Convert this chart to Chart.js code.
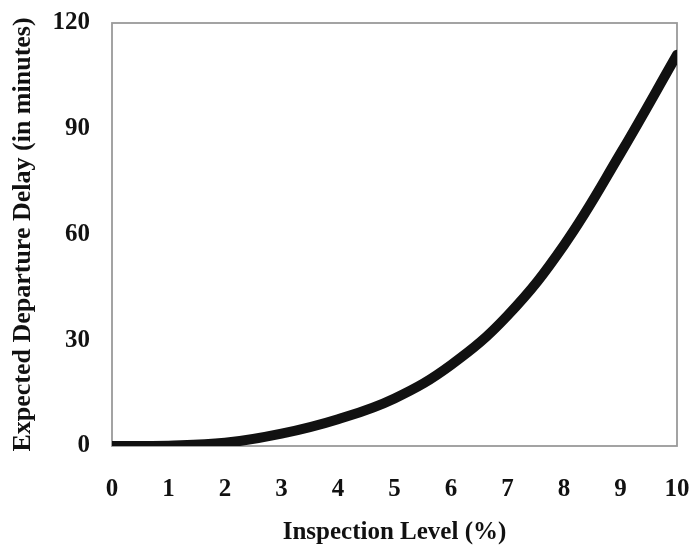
<!DOCTYPE html>
<html>
<head>
<meta charset="utf-8">
<script src="https://cdn.jsdelivr.net/npm/chart.js@4"></script>
<style>
  html, body { margin: 0; padding: 0; background: #fff; }
  #wrap { width: 691px; height: 548px; }
</style>
</head>
<body>
<div id="wrap"><canvas id="delayChart" width="691" height="548"></canvas></div>
<script>
// inspection level (%) and expected departure delay (minutes)
const inspectionLevels = [0, 1, 2, 3, 4, 5, 6, 7, 8, 9, 10];
const expectedDelay = [0, 0.1, 0.9, 3.5, 7.6, 13.5, 23, 37, 57, 83, 111];
const yTicks = [0, 30, 60, 90, 120];

const serif = "'Liberation Serif', 'Times New Roman', serif";

// grey frame round the plot area
const frame = {
  id: 'frame',
  beforeDatasetsDraw(chart) {
    const { ctx, chartArea: a } = chart;
    ctx.save();
    ctx.strokeStyle = '#9a9a9a';
    ctx.lineWidth = 1.8;
    ctx.strokeRect(a.left, a.top, a.right - a.left, a.bottom - a.top);
    ctx.restore();
  }
};

const ctx = document.getElementById('delayChart').getContext('2d');
new Chart(ctx, {
  type: 'line',
  data: {
    datasets: [{
      data: inspectionLevels.map((x, i) => ({ x, y: expectedDelay[i] })),
      borderColor: '#111',
      borderWidth: 10,
      pointRadius: 0,
      tension: 0.4,
      borderCapStyle: 'round',
      fill: false
    }]
  },
  plugins: [frame],
  options: {
    responsive: false,
    animation: false,
    layout: { padding: { top: 23, right: 14, left: 0, bottom: 0 } },
    plugins: { legend: { display: false }, tooltip: { enabled: false } },
    scales: {
      x: {
        type: 'linear',
        min: 0, max: 10,
        afterFit(s) { s.height = 102; s.paddingLeft = 0; s.paddingRight = 0; },
        grid: { display: false, drawTicks: false },
        border: { display: false },
        ticks: {
          stepSize: 1,
          padding: 29,
          color: '#111',
          font: { family: serif, size: 25, weight: 'bold' }
        },
        title: {
          display: true,
          text: 'Inspection Level (%)',
          color: '#111',
          font: { family: serif, size: 25, weight: 'bold' },
          padding: { top: 10, bottom: 0 }
        }
      },
      y: {
        min: 0, max: 120,
        afterFit(s) { s.width = 112; s.paddingTop = 0; s.paddingBottom = 0; },
        afterBuildTicks(s) { s.ticks = yTicks.map(v => ({ value: v })); },
        grid: { display: false, drawTicks: false },
        border: { display: false },
        ticks: {
          padding: 22,
          color: '#111',
          font: { family: serif, size: 25, weight: 'bold' }
        },
        title: {
          display: true,
          text: 'Expected Departure Delay (in minutes)',
          color: '#111',
          font: { family: serif, size: 26, weight: 'bold' },
          padding: { top: 8, bottom: 0 }
        }
      }
    }
  }
});
</script>
</body>
</html>
